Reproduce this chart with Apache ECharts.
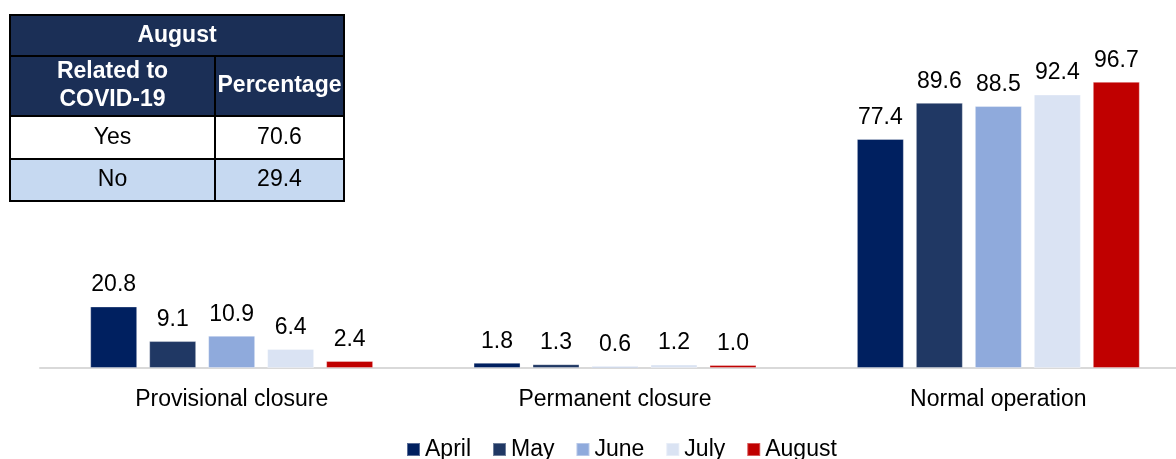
<!DOCTYPE html>
<html>
<head>
<meta charset="utf-8">
<script src="https://cdn.jsdelivr.net/npm/echarts@6/dist/echarts.min.js"></script>
<style>
  html, body { margin: 0; padding: 0; background: #fff; }
  #main { width: 1176px; height: 459px; }
</style>
</head>
<body>
<div id="main"></div>
<script>
// categories and months
const categories = ['Provisional closure', 'Permanent closure', 'Normal operation']
const months = ['April', 'May', 'June', 'July', 'August']
const april = [20.8, 1.8, 77.4]
const may = [9.1, 1.3, 89.6]
const june = [10.9, 0.6, 88.5]
const july = [6.4, 1.2, 92.4]
const august = [2.4, 1.0, 96.7]
const monthColors = ['#002060', '#203864', '#8FAADC', '#DAE3F3', '#C00000']

// inset table (August)
const tableTitle = 'August'
const tableHead = ['Related to\nCOVID-19', 'Percentage']
const tableRows = [['Yes', '70.6'], ['No', '29.4']]

const font = 'Liberation Sans, Arial, sans-serif'
const chart = echarts.init(document.getElementById('main'))

// table graphic
const tx = 10, ty = 15, c1 = 205, c2 = 129
const rowH = [41, 60, 43, 42]
const tableEls = []
let y = ty
// title row
tableEls.push({type: 'rect', shape: {x: tx, y: y, width: c1 + c2, height: rowH[0]},
  style: {fill: '#1B2F56', stroke: '#000', lineWidth: 2}})
tableEls.push({type: 'text', x: tx + (c1 + c2) / 2, y: y + rowH[0] / 2,
  style: {text: tableTitle, fill: '#fff', font: 'bold 23px ' + font, align: 'center', verticalAlign: 'middle'}})
y += rowH[0]
// header row
tableHead.forEach((h, i) => {
  const x = i == 0 ? tx : tx + c1
  const w = i == 0 ? c1 : c2
  tableEls.push({type: 'rect', shape: {x: x, y: y, width: w, height: rowH[1]},
    style: {fill: '#1B2F56', stroke: '#000', lineWidth: 2}})
  tableEls.push({type: 'text', x: x + w / 2, y: y + rowH[1] / 2,
    style: {text: h, fill: '#fff', font: 'bold 23px ' + font, align: 'center', verticalAlign: 'middle', lineHeight: 28}})
})
y += rowH[1]
// data rows
tableRows.forEach((r, ri) => {
  const h = rowH[2 + ri]
  r.forEach((v, i) => {
    const x = i == 0 ? tx : tx + c1
    const w = i == 0 ? c1 : c2
    tableEls.push({type: 'rect', shape: {x: x, y: y, width: w, height: h},
      style: {fill: ri == 1 ? '#C6D9F1' : '#fff', stroke: '#000', lineWidth: 2}})
    tableEls.push({type: 'text', x: x + w / 2, y: y + h / 2,
      style: {text: v, fill: '#000', font: '23px ' + font, align: 'center', verticalAlign: 'middle'}})
  })
  y += h
})

const seriesData = [april, may, june, july, august]

chart.setOption({
  animation: false,
  textStyle: {fontFamily: font},
  grid: {left: 40, width: 1150, top: 72, height: 296, containLabel: false, outerBoundsMode: 'none'},
  legend: {
    bottom: -7,
    left: 401,
    itemWidth: 13, itemHeight: 13, itemGap: 21,
    icon: 'rect',
    textStyle: {fontSize: 23, color: '#000'},
    data: months
  },
  xAxis: {
    type: 'category',
    data: categories,
    axisLine: {lineStyle: {color: '#D9D9D9', width: 2}},
    axisTick: {show: false},
    axisLabel: {fontSize: 23, color: '#000', margin: 20}
  },
  yAxis: {type: 'value', min: 0, max: 100, show: false, splitLine: {show: false}},
  series: months.map((m, i) => ({
    name: m,
    type: 'bar',
    data: seriesData[i],
    barWidth: 47,
    barGap: '25.5%',
    itemStyle: {color: monthColors[i], borderColor: 'rgba(255,255,255,0.35)', borderWidth: 1},
    label: {show: true, position: 'top', distance: 10, fontSize: 23, color: '#000',
      formatter: p => p.value.toFixed(1)}
  })),
  graphic: tableEls
})
</script>
</body>
</html>
